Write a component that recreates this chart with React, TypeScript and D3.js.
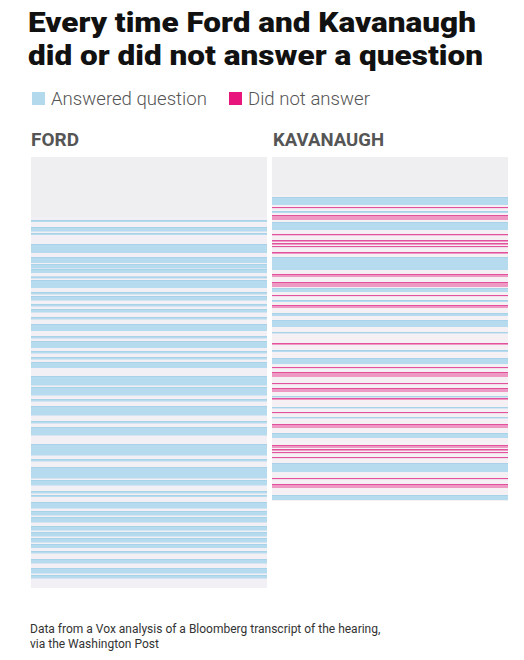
import React, { useEffect } from "react";
import * as d3 from "d3";

// Transcript position units (0 = start of testimony) for each witness
const fordLength = 431;
const kavanaughLength = 344;

// Ford: every question segment was answered
const fordAnswered: [number, number][] = [
  [63, 65], [70, 74.5], [76, 78], [87, 96], [100, 106], [107, 111.5], [112, 116],
  [119.5, 121.5], [123, 131], [135, 137.5], [139, 143.5], [147, 149.5], [152, 155.5],
  [160, 162.5], [167, 174], [179, 181.5], [184, 191], [194, 196.5], [200, 202.5],
  [205, 211], [219, 228.5], [230, 238.5], [242, 244.5], [249, 258.5], [264, 266.5],
  [270, 278.5], [287, 298.5], [302, 304.5], [310, 321.5], [323, 328.5], [334, 336.5],
  [338, 340], [345, 351.5], [354, 358.5], [360, 365.5], [369, 373.5], [375, 379.5],
  [381, 385.5], [387, 391], [394, 396.5], [402, 406.5], [411, 416.5], [418, 421.5],
];

// Kavanaugh: answered segments
const kavanaughAnswered: [number, number][] = [
  [40, 48], [54, 56], [65, 73], [100, 113], [131, 135], [143, 145],
  [156, 159], [163, 170], [175, 176.5], [193, 195], [201, 207], [239, 240.5],
  [250, 251.5], [260, 261.5], [276, 281], [306, 315], [338, 343],
];

// Kavanaugh: segments where he did not answer
const kavanaughNotAnswered: [number, number][] = [
  [50, 51], [58, 63], [77, 78.5], [83, 85], [86, 88], [89, 90], [95, 97],
  [117, 120], [125, 130], [138, 139], [148, 151], [186, 188], [210, 211],
  [215, 220], [226, 227], [231, 235], [241, 243], [255, 256], [267, 271],
  [288, 291], [292, 294], [295, 296], [300, 301], [321, 322], [327, 331],
];

const legendItems = ["Answered question", "Did not answer"];
const panelTitles = ["FORD", "KAVANAUGH"];
const titleLines = [
  "Every time Ford and Kavanaugh",
  "did or did not answer a question",
];
const noteLines = [
  "Data from a Vox analysis of a Bloomberg transcript of the hearing,",
  "via the Washington Post",
];

const BLUE = "#b3d9ed";
const BLUE_EDGE = "#9ccbe4";
const PINK = "#ec88bb";
const PINK_EDGE = "#d9177a";

export default function App() {
  useEffect(() => {
    document.body.style.margin = "0";
  }, []);

  const W = 524;
  const H = 660;
  const panelTop = 157;
  const fordX = 31;
  const kavX = 272;
  const panelW = 236;

  // one unit of transcript = one pixel of height, both panels share a scale
  const yFord = d3.scaleLinear().domain([0, fordLength]).range([panelTop, panelTop + fordLength]);
  const yKav = d3.scaleLinear().domain([0, kavanaughLength]).range([panelTop, panelTop + kavanaughLength]);

  const stripes = (
    segs: [number, number][],
    y: d3.ScaleLinear<number, number>,
    x0: number,
    fill: string,
    edge: string,
    fillOp: number,
    edgeOp: number,
    key: string
  ) =>
    segs.map(([a, b], i) => {
      const y0 = y(a);
      const h = Math.max(1.2, y(b) - y(a));
      return (
        <g key={key + i}>
          <rect x={x0} y={y0} width={panelW} height={h} fill={fill} opacity={fillOp} />
          <rect x={x0} y={y0} width={panelW} height={1} fill={edge} opacity={edgeOp} />
        </g>
      );
    });

  const font = "Roboto, 'Noto Sans', sans-serif";

  return (
    <div style={{ position: "absolute", left: 0, top: 0 }}>
      <svg width={W} height={H} viewBox={`0 0 ${W} ${H}`} style={{ display: "block", background: "#fff" }}>
        {/* Title */}
        {titleLines.map((t, i) => (
          <text
            key={t}
            x={28}
            y={32 + i * 33}
            fontFamily={font}
            fontWeight={900}
            fontSize={28}
            textLength={i === 0 ? 448 : 455}
            lengthAdjust="spacingAndGlyphs"
            fill="#111"
          >
            {t}
          </text>
        ))}

        {/* Legend */}
        <rect x={32} y={92} width={13} height={13} fill={BLUE} />
        <text x={51} y={105} fontFamily={font} fontWeight={300} fontSize={18.6} fill="#555">
          {legendItems[0]}
        </text>
        <rect x={229} y={92} width={13} height={13} fill="#e8157c" />
        <text x={248} y={105} fontFamily={font} fontWeight={300} fontSize={18.6} fill="#555">
          {legendItems[1]}
        </text>

        {/* Panel titles */}
        <text x={31} y={146} fontFamily={font} fontWeight={700} fontSize={17.5} textLength={48} lengthAdjust="spacingAndGlyphs" fill="#555">
          {panelTitles[0]}
        </text>
        <text x={273} y={146} fontFamily={font} fontWeight={700} fontSize={17.5} textLength={111} lengthAdjust="spacingAndGlyphs" fill="#555">
          {panelTitles[1]}
        </text>

        {/* Panels background */}
        <rect x={fordX} y={yFord(0)} width={panelW} height={yFord(fordLength) - yFord(0)} fill="#efeef0" />
        <rect x={fordX} y={yFord(60)} width={panelW} height={yFord(fordLength) - yFord(60)} fill="#f2f0f4" />
        <rect x={kavX} y={yKav(0)} width={panelW} height={yKav(kavanaughLength) - yKav(0)} fill="#efeef0" />
        <rect x={kavX} y={yKav(38)} width={panelW} height={yKav(kavanaughLength) - yKav(38)} fill="#f5f0f4" />

        {stripes(fordAnswered, yFord, fordX, BLUE, BLUE_EDGE, 0.95, 0.6, "fa")}
        {stripes(kavanaughAnswered, yKav, kavX, BLUE, BLUE_EDGE, 0.95, 0.6, "ka")}
        {stripes(kavanaughNotAnswered, yKav, kavX, PINK, PINK_EDGE, 0.85, 0.55, "kn")}

        {/* Note */}
        {noteLines.map((t, i) => (
          <text key={t} x={30} y={633 + i * 14.5} fontFamily={font} fontSize={12} fill="#333">
            {t}
          </text>
        ))}
      </svg>
    </div>
  );
}
